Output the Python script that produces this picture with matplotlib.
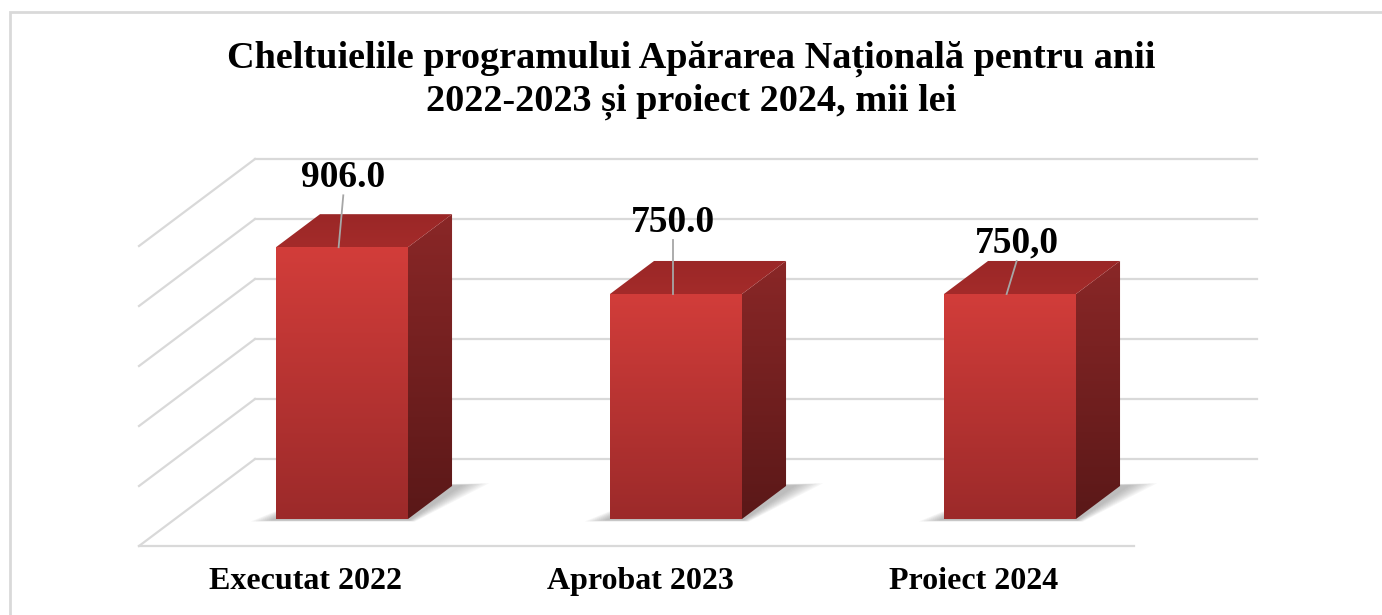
import matplotlib.pyplot as plt
import numpy as np
from matplotlib.patches import Polygon, Rectangle
from matplotlib.colors import LinearSegmentedColormap

# date
categorii = ['Executat 2022', 'Aprobat 2023', 'Proiect 2024']
valori = [906.0, 750.0, 750.0]
etichete = ['906.0', '750.0', '750,0']
grila = [0, 200, 400, 600, 800, 1000]
titlu = 'Cheltuielile programului Apărarea Națională pentru anii\n2022-2023 și proiect 2024, mii lei'

plt.rcParams['font.family'] = ['Liberation Serif', 'DejaVu Serif']

fig = plt.figure(figsize=(13.82, 6.15), dpi=100)
ax = fig.add_axes([0, 0, 1, 1])
# x in unitati de categorie, y in valori (0.3 px / unitate)
ax.set_xlim(-0.5 - 255 / 334, -0.5 + (1382 - 255) / 334)
ax.set_ylim(-520, 1530)
ax.axis('off')

# proiectie oblica: adancimea z muta punctul spre stanga si in jos
DX = -116 / 334
DY = -290


def proj(x, v, z):
    return (x + DX * z, v + DY * z)


# chenar
fig.patches.append(Rectangle((10 / 1382, -0.1), 1.2, 1 - 12 / 615 + 0.1,
                             transform=fig.transFigure, fill=False,
                             edgecolor='#D9D9D9', lw=2))

grid_c = '#D9D9D9'
x0, x1 = -0.5, len(categorii) - 0.5
for g in grila:
    # perete spate
    ax.plot([x0, x1], [g, g], color=grid_c, lw=1.6, zorder=1)
    # perete lateral
    a, b = proj(x0, g, 0), proj(x0, g, 1)
    ax.plot([a[0], b[0]], [a[1], b[1]], color=grid_c, lw=1.6, zorder=1)
# linia din fata a podelei
a, b = proj(x0, 0, 1), proj(x1, 0, 1)
ax.plot([a[0], b[0] - 0.02], [a[1], b[1]], color=grid_c, lw=1.6, zorder=1)


def gradient_fill(poly, c_top, c_bot, zorder=3):
    pts = np.array(poly)
    patch = Polygon(pts, closed=True, facecolor='none', edgecolor='none', zorder=zorder)
    ax.add_patch(patch)
    cmap = LinearSegmentedColormap.from_list('g', [c_top, c_bot])
    data = np.linspace(0, 1, 256).reshape(-1, 1)
    im = ax.imshow(data, cmap=cmap, aspect='auto', origin='upper',
                   extent=[pts[:, 0].min(), pts[:, 0].max(), pts[:, 1].min(), pts[:, 1].max()],
                   zorder=zorder, interpolation='bilinear')
    im.set_clip_path(patch)


w = 132 / 334
zf, zb = 0.69, 0.31
for i, v in enumerate(valori):
    xl, xr = i - w / 2, i + w / 2
    # umbra difuza pe podea
    for k in np.linspace(0.0, 0.07, 9):
        sh = [proj(xl - 0.01 - k * 0.8, 0, zf + 0.015 + k * 0.2),
              proj(xr + 0.01 + k * 0.3, 0, zf + 0.015 + k * 0.2),
              proj(xr + 0.03 + k, 0, zb - 0.01 - k * 0.3),
              proj(xl + 0.05, 0, zb)]
        ax.add_patch(Polygon(sh, closed=True, facecolor='#404040', alpha=0.045,
                             edgecolor='none', zorder=2))
    front = [proj(xl, 0, zf), proj(xr, 0, zf), proj(xr, v, zf), proj(xl, v, zf)]
    top = [proj(xl, v, zf), proj(xr, v, zf), proj(xr, v, zb), proj(xl, v, zb)]
    side = [proj(xr, 0, zf), proj(xr, 0, zb), proj(xr, v, zb), proj(xr, v, zf)]
    gradient_fill(side, '#8A2727', '#5A1818', zorder=3)
    gradient_fill(top, '#9A2727', '#A42B2A', zorder=3)
    gradient_fill(front, '#D23D3A', '#9C2A2A', zorder=4)

# etichete valori cu linii de legatura (dx, dy fata de coltul frontal al barei)
lbl_off = [(0.014, 233), (0.0, 240), (0.03, 170)]
for i, (v, t) in enumerate(zip(valori, etichete)):
    fx, fy = proj(i, v, zf)
    fx -= 0.01
    lx, ly = fx + lbl_off[i][0], fy + lbl_off[i][1]
    ax.plot([fx, lx], [fy, ly - 60], color='#A6A6A6', lw=1.3, zorder=5)
    ax.text(lx, ly, t, ha='center', va='center', fontsize=27,
            fontweight='bold', zorder=6)

# etichete categorii
for i, c in enumerate(categorii):
    cx, cy = proj(i, 0, 1)
    ax.text(cx, -407, c, ha='center', va='center', fontsize=23, fontweight='bold')

fig.text(0.5, 1 - 80 / 615, titlu, ha='center', va='center', fontsize=27.5,
         fontweight='bold', linespacing=1.25)

fig.savefig('out.png', dpi=100)
